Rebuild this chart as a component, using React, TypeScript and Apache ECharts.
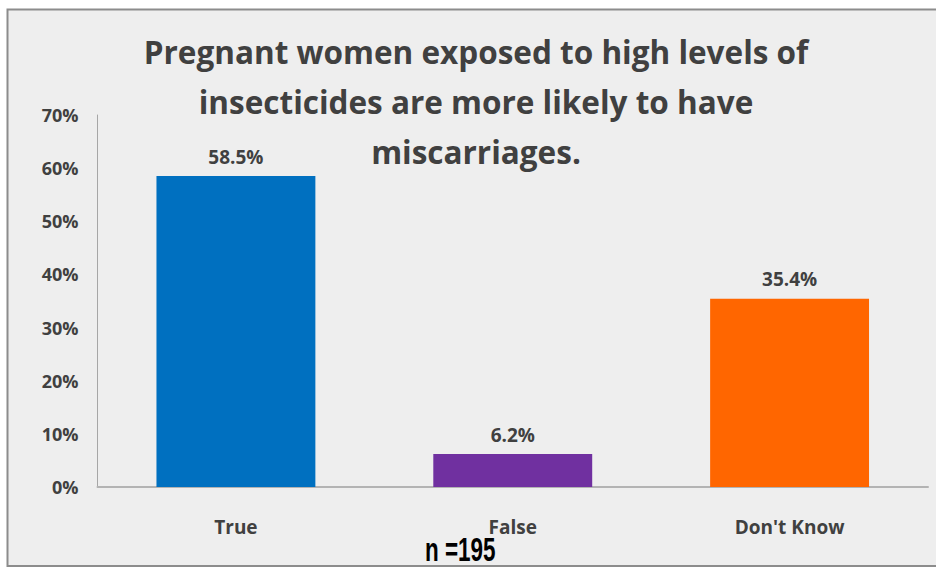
import React, { useEffect, useRef } from "react";
import * as echarts from "echarts";

const categories = ["True", "False", "Don't Know"];
const values = [58.5, 6.2, 35.4];
const barColors = ["#0070C0", "#7030A0", "#FF6600"];
const yTicks = [0, 10, 20, 30, 40, 50, 60, 70];
const titleText = "Pregnant women exposed to high levels of\ninsecticides are more likely to have\nmiscarriages.";
const sampleNote = "n =195";

export default function App() {
  const ref = useRef<HTMLDivElement>(null);

  useEffect(() => {
    if (!ref.current) return;
    const chart = echarts.init(ref.current, null, { renderer: "svg" });
    const font = "'Open Sans', 'Noto Sans', sans-serif";
    chart.setOption({
      animation: false,
      backgroundColor: "#ffffff",
      graphic: [
        {
          type: "rect",
          z: -10,
          shape: { x: 7.5, y: 9.5, width: 960, height: 556.5 },
          style: { fill: "#eeeeee", stroke: "#8c8c8c", lineWidth: 2 },
        },
        {
          type: "text",
          z: 10,
          x: 425,
          y: 564,
          scaleX: 0.66,
          style: {
            text: sampleNote,
            font: "bold 34px 'Liberation Sans', Arial, sans-serif",
            fill: "#000000",
            verticalAlign: "bottom",
            lineHeight: 30,
          },
        },
        {
          type: "text",
          z: 10,
          x: 476,
          y: 26,
          style: {
            text: titleText,
            font: `bold 31.5px ${font}`,
            fill: "#404040",
            align: "center",
            lineHeight: 50,
          },
        },
      ],
      grid: { left: 97.5, right: 8, top: 115, bottom: 80, containLabel: false },
      xAxis: {
        type: "category",
        data: categories,
        axisLine: { lineStyle: { color: "#b3b3b3", width: 2 } },
        axisTick: { show: false },
        axisLabel: {
          margin: 30,
          color: "#404040",
          fontFamily: font,
          fontWeight: "bold",
          fontSize: 19,
        },
      },
      yAxis: {
        type: "value",
        min: 0,
        max: 70,
        interval: 10,
        axisLine: { show: true, lineStyle: { color: "#a6a6a6", width: 1 } },
        axisTick: { show: false },
        splitLine: { show: false },
        axisLabel: {
          margin: 19,
          color: "#404040",
          fontFamily: font,
          fontWeight: "bold",
          fontSize: 18,
          formatter: (v: number) => (yTicks.includes(v) ? `${v}%` : ""),
        },
      },
      series: [
        {
          type: "bar",
          barWidth: "57.4%",
          data: values.map((v, i) => ({ value: v, itemStyle: { color: barColors[i] } })),
          label: {
            show: true,
            position: "top",
            distance: 10,
            color: "#404040",
            fontFamily: font,
            fontWeight: "bold",
            fontSize: 19,
            formatter: (p: any) => `${p.value.toFixed(1)}%`,
          },
        },
      ],
    });
    return () => chart.dispose();
  }, []);

  return <div ref={ref} style={{ width: 936, height: 567, position: "absolute", left: 0, top: 0 }} />;
}
